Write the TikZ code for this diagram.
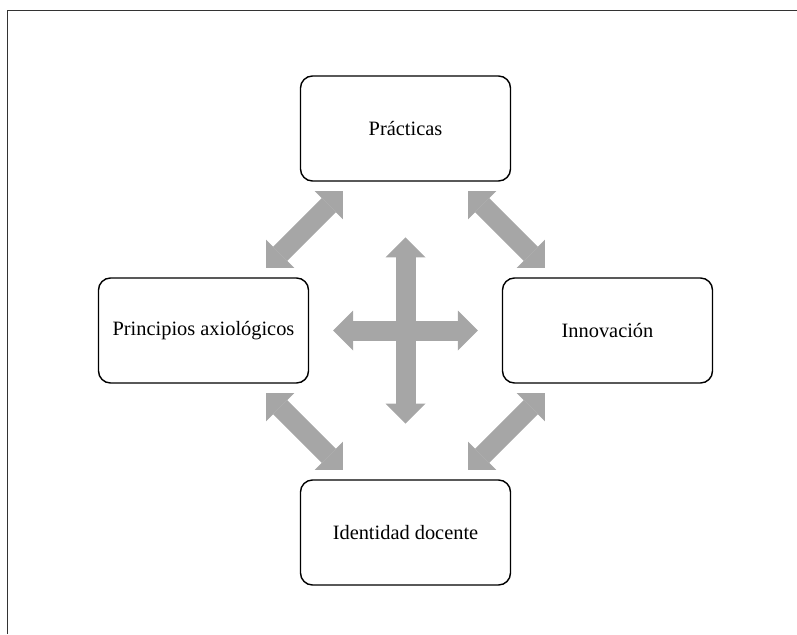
\documentclass[tikz,border=0pt]{standalone}
\usepackage{fontspec}
\setmainfont{Liberation Serif}
\usepackage{tikz}
\usetikzlibrary{arrows.meta}
\usetikzlibrary{positioning}
\definecolor{arrowgray}{RGB}{166,166,166}
\tikzstyle{box}=[draw,rectangle,rounded corners=0.3cm,fill=white,line width=1pt,minimum width=5.25cm,minimum height=2.625cm,inner sep=2pt,font=\fontsize{14.5}{17}\selectfont]
\tikzstyle{dbl}=[color=arrowgray,line width=0.5cm,{Triangle[width=1cm,length=0.5cm,line width=0pt]}-{Triangle[width=1cm,length=0.5cm,line width=0pt]}]

\begin{document}
\begin{tikzpicture}[every edge/.style={draw}]
    %\draw [help lines] (0,0) grid (20,-16);
    \useasboundingbox (0,0) rectangle (19.925,-15.85);
    \draw [line width=1pt, black!80] (0.1875,-15.85) -- (0.1875,-0.2625) -- (19.925,-0.2625);

    \node [box] (P) at (10.1375,-3.2125)  {Prácticas};
    \node [box] (L) at (5.0875,-8.2625)   {Principios axiológicos};
    \node [box] (R) at (15.1875,-8.2625)  {Innovación};
    \node [box] (B) at (10.1375,-13.3125) {Identidad docente};

    \path [dbl, shorten <=0.33cm, shorten >=0.33cm]
               (L) edge (P)
                   edge (B)
               (R) edge (P)
                   edge (B);
    \path [dbl, shorten <=1.39cm, shorten >=1.39cm] (P) edge (B);
    \path [dbl, shorten <=0.6cm, shorten >=0.6cm] (L) edge (R);
\end{tikzpicture}
\end{document}
